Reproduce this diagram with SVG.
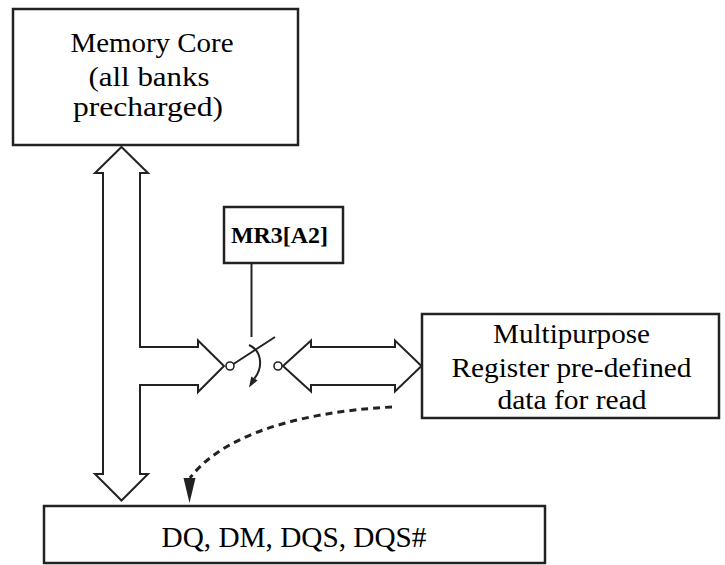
<svg xmlns="http://www.w3.org/2000/svg" width="725" height="565" viewBox="0 0 725 565">
<style>
.box{fill:#fff;stroke:#222;stroke-width:2.5}
.arr{fill:#fff;stroke:#222;stroke-width:2;stroke-linejoin:miter}
.ln{fill:none;stroke:#222;stroke-width:2}
.t{font-family:'Liberation Serif','Times New Roman',serif;font-size:28px;fill:#000;text-anchor:middle}
.tb{font-family:'Liberation Serif','Times New Roman',serif;font-size:24px;font-weight:bold;fill:#000;text-anchor:middle}
</style>
<rect width="725" height="565" fill="#fff"/>
<g id="connectors">
  <polygon class="arr" points="121.5,147 148,173 140,173 140,347 198,347 198,340.5 224,366 198,392 198,385 140,385 140,474 148,474 121.5,500.5 95,474 103,474 103,173 95,173"/>
  <polygon class="arr" points="283,366 311,340.5 311,347 395,347 395,340.5 421.5,366 395,391.5 395,385 311,385 311,391.5"/>
  <line class="ln" x1="251.5" y1="263" x2="251.5" y2="337"/>
  <circle cx="230" cy="366" r="4" fill="#fff" stroke="#222" stroke-width="1.6"/>
  <circle cx="278" cy="366" r="4" fill="#fff" stroke="#222" stroke-width="1.6"/>
  <line class="ln" x1="233.5" y1="364" x2="275" y2="337"/>
  <path class="ln" d="M 249 345 C 261 350, 264 366, 254.4 378.6"/>
  <polygon fill="#222" points="249,387.5 251.3,376.5 257.5,380.5"/>
  <path d="M 392 407 C 330 410, 230 425, 190 478" fill="none" stroke="#222" stroke-width="3" stroke-dasharray="7 5"/>
  <polygon fill="#222" points="183.5,478 195.5,478 189.5,503"/>
</g>
<g id="memory-core">
  <rect class="box" x="13" y="9" width="285" height="136"/>
  <text class="t" x="152" y="52" textLength="163" lengthAdjust="spacingAndGlyphs">Memory Core</text>
  <text class="t" x="149" y="86" textLength="121" lengthAdjust="spacingAndGlyphs">(all banks</text>
  <text class="t" x="148" y="116" textLength="150" lengthAdjust="spacingAndGlyphs">precharged)</text>
</g>
<g id="mr3">
  <rect class="box" x="224" y="207" width="119" height="56"/>
  <text class="tb" x="279.5" y="243" textLength="97" lengthAdjust="spacingAndGlyphs">MR3[A2]</text>
</g>
<g id="mpr">
  <rect class="box" x="422" y="314" width="297" height="104"/>
  <text class="t" x="571.5" y="343" textLength="157" lengthAdjust="spacingAndGlyphs">Multipurpose</text>
  <text class="t" x="571.5" y="377" textLength="240" lengthAdjust="spacingAndGlyphs">Register pre-defined</text>
  <text class="t" x="572" y="409" textLength="149" lengthAdjust="spacingAndGlyphs">data for read</text>
</g>
<g id="dq">
  <rect class="box" x="44" y="506" width="501" height="57"/>
  <text class="t" x="294" y="547" style="font-size:29.5px" textLength="265" lengthAdjust="spacingAndGlyphs">DQ, DM, DQS, DQS#</text>
</g>
</svg>
